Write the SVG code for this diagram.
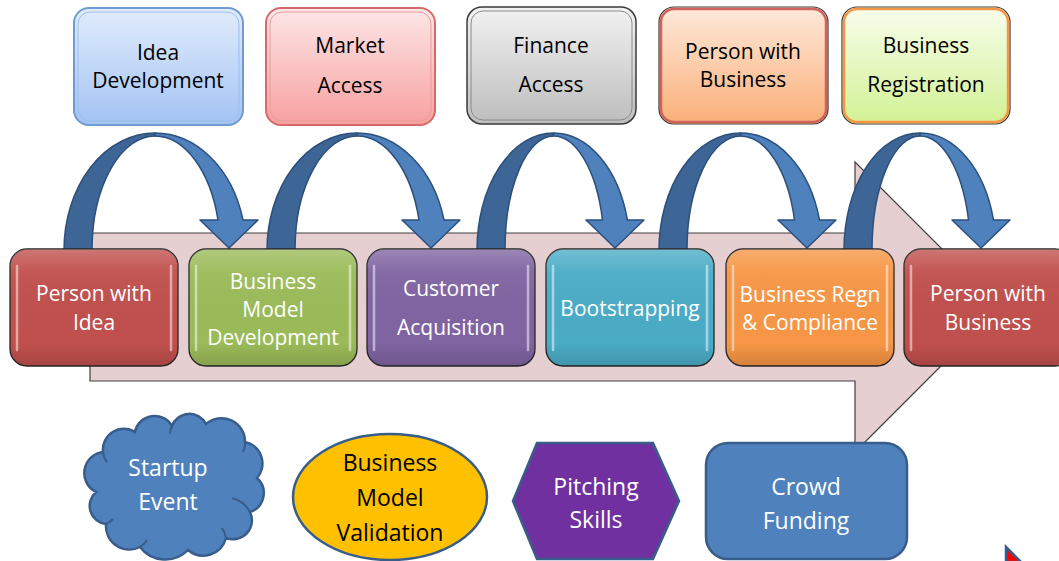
<svg xmlns="http://www.w3.org/2000/svg" width="1059" height="561" viewBox="0 0 1059 561">
<defs>
<linearGradient id="gBlue" x1="0" y1="0" x2="0" y2="1"><stop offset="0" stop-color="#e1ecfc"/><stop offset="1" stop-color="#a3c3f4"/></linearGradient>
<linearGradient id="gRed" x1="0" y1="0" x2="0" y2="1"><stop offset="0" stop-color="#fde7e7"/><stop offset="1" stop-color="#f8a0a0"/></linearGradient>
<linearGradient id="gGray" x1="0" y1="0" x2="0" y2="1"><stop offset="0" stop-color="#f2f2f2"/><stop offset="1" stop-color="#bdbdbd"/></linearGradient>
<linearGradient id="gPeach" x1="0" y1="0" x2="0" y2="1"><stop offset="0" stop-color="#fde9da"/><stop offset="1" stop-color="#fbaf78"/></linearGradient>
<linearGradient id="gLime" x1="0" y1="0" x2="0" y2="1"><stop offset="0" stop-color="#f8fdec"/><stop offset="1" stop-color="#d2f294"/></linearGradient>
<linearGradient id="gloss" x1="0" y1="0" x2="0" y2="1"><stop offset="0" stop-color="#fff" stop-opacity="0.22"/><stop offset="0.2" stop-color="#fff" stop-opacity="0.04"/><stop offset="0.8" stop-color="#000" stop-opacity="0"/><stop offset="1" stop-color="#000" stop-opacity="0.14"/></linearGradient>
</defs>
<style>
.t{font-family:"Open Sans","Noto Sans","Liberation Sans",sans-serif;font-size:21px;text-anchor:middle}
.w{fill:#fff}
.k{fill:#000}
.b{font-size:23px}
.main{stroke:#262626;stroke-width:1.3}
.gl{fill:url(#gloss);stroke:none}
.hl{fill:none;stroke:#fff;stroke-opacity:0.5;stroke-width:2.5;stroke-linecap:round}
.dk{fill:#3d6595;stroke:#2c4f7c;stroke-width:1.5;stroke-linejoin:round}
.lt{fill:#4f81bd;stroke:#2c4f7c;stroke-width:1.5;stroke-linejoin:round}
.sh{stroke:#385d8a;stroke-width:2.5}
.cr{fill:none;stroke:#385d8a;stroke-width:2}
</style>
<rect width="1059" height="561" fill="#fff"/>

<g id="flow-arrow">
<polygon points="90,233 855,233 855,162 1000,307 855,452 855,381 90,381" fill="#e6cfd0" stroke="#3f3f3f" stroke-width="1.2"/>
</g>

<g id="connectors">
<path class="dk" d="M64,250 A91 117 0 0 1 155,133 L155,136 A63 114 0 0 0 92,250 Z"/>
<path class="lt" d="M155,133 A91 117 0 0 1 243,220 L258,220 L229,248 L200,220 L218,220 A65.5 114 0 0 0 155,136 Z"/>
<path class="dk" d="M267,250 A90 117 0 0 1 357,133 L357,136 A62 114 0 0 0 295,250 Z"/>
<path class="lt" d="M357,133 A90 117 0 0 1 444,220 L460,220 L431,248 L402,220 L419,220 A64 114 0 0 0 357,136 Z"/>
<path class="dk" d="M477,250 A76.5 117 0 0 1 553.5,133 L553.5,136 A48.5 114 0 0 0 505,250 Z"/>
<path class="lt" d="M553.5,133 A76.5 117 0 0 1 627.4,220 L644,220 L615,248 L586,220 L602.5,220 A50.8 114 0 0 0 553.5,136 Z"/>
<path class="dk" d="M659,250 A81.6 117 0 0 1 740.6,133 L740.6,136 A53.6 114 0 0 0 687,250 Z"/>
<path class="lt" d="M740.6,133 A81.6 117 0 0 1 819.5,220 L836,220 L807,248 L778,220 L794.5,220 A55.9 114 0 0 0 740.6,136 Z"/>
<path class="dk" d="M844,250 A76 117 0 0 1 920,133 L920,136 A48 114 0 0 0 872,250 Z"/>
<path class="lt" d="M920,133 A76 117 0 0 1 993.5,220 L1010,220 L981,248 L952,220 L968.5,220 A50.3 114 0 0 0 920,136 Z"/>
</g>

<g id="person-idea">
<rect class="main" x="10" y="249" width="168" height="117" rx="17" fill="#c0504d"/>
<rect class="gl" x="10" y="249" width="168" height="117" rx="17"/>
<path class="hl" d="M17,266 L17,350 M171,266 L171,350"/>
<text class="t w" x="94" y="300.5">Person with</text>
<text class="t w" x="94" y="329.5">Idea</text>
</g>
<g id="business-model-dev">
<rect class="main" x="189" y="249" width="168" height="117" rx="17" fill="#9bbb59"/>
<rect class="gl" x="189" y="249" width="168" height="117" rx="17"/>
<path class="hl" d="M196,266 L196,350 M350,266 L350,350"/>
<text class="t w" x="273" y="288.5">Business</text>
<text class="t w" x="273" y="316.5">Model</text>
<text class="t w" x="273" y="344.5">Development</text>
</g>
<g id="customer-acquisition">
<rect class="main" x="367" y="249" width="168" height="117" rx="17" fill="#8064a2"/>
<rect class="gl" x="367" y="249" width="168" height="117" rx="17"/>
<path class="hl" d="M374,266 L374,350 M528,266 L528,350"/>
<text class="t w" x="451" y="295.5">Customer</text>
<text class="t w" x="451" y="334.5">Acquisition</text>
</g>
<g id="bootstrapping">
<rect class="main" x="546" y="249" width="168" height="117" rx="17" fill="#4bacc6"/>
<rect class="gl" x="546" y="249" width="168" height="117" rx="17"/>
<path class="hl" d="M553,266 L553,350 M707,266 L707,350"/>
<text class="t w" x="630" y="315.5">Bootstrapping</text>
</g>
<g id="business-regn">
<rect class="main" x="726" y="249" width="168" height="117" rx="17" fill="#f79646"/>
<rect class="gl" x="726" y="249" width="168" height="117" rx="17"/>
<path class="hl" d="M733,266 L733,350 M887,266 L887,350"/>
<text class="t w" x="810" y="301.5">Business Regn</text>
<text class="t w" x="810" y="329.5">&amp; Compliance</text>
</g>
<g id="person-business">
<rect class="main" x="904" y="249" width="168" height="117" rx="17" fill="#c0504d"/>
<rect class="gl" x="904" y="249" width="168" height="117" rx="17"/>
<path class="hl" d="M911,266 L911,350"/>
<text class="t w" x="988" y="300.5">Person with</text>
<text class="t w" x="988" y="329.5">Business</text>
</g>

<g id="top-idea-development">
<rect x="74" y="8" width="169" height="117" rx="15" fill="url(#gBlue)" stroke="#6f9ad4" stroke-width="2"/>
<rect x="78" y="12" width="161" height="109" rx="12" fill="none" stroke="#9dbdea" stroke-width="1"/>
<text class="t k" x="158" y="59.5">Idea</text>
<text class="t k" x="158" y="87.5">Development</text>
</g>
<g id="top-market-access">
<rect x="266" y="8" width="169" height="117" rx="15" fill="url(#gRed)" stroke="#d66a6a" stroke-width="2"/>
<rect x="270" y="12" width="161" height="109" rx="12" fill="none" stroke="#e99a9a" stroke-width="1"/>
<text class="t k" x="350" y="52.5">Market</text>
<text class="t k" x="350" y="92.5">Access</text>
</g>
<g id="top-finance-access">
<rect x="467" y="7" width="169" height="117" rx="15" fill="url(#gGray)" stroke="#3a3a3a" stroke-width="1.5"/>
<rect x="471" y="11" width="161" height="109" rx="12" fill="none" stroke="#8a8a8a" stroke-width="1"/>
<text class="t k" x="551" y="52.5">Finance</text>
<text class="t k" x="551" y="91.5">Access</text>
</g>
<g id="top-person-business">
<rect x="659" y="7" width="169" height="117" rx="15" fill="url(#gPeach)" stroke="#3a3a3a" stroke-width="1.2"/>
<rect x="661" y="9" width="165" height="113" rx="13" fill="none" stroke="#d0645a" stroke-width="2.5"/>
<text class="t k" x="743" y="58.5">Person with</text>
<text class="t k" x="743" y="86.5">Business</text>
</g>
<g id="top-business-registration">
<rect x="842" y="7" width="168" height="117" rx="15" fill="url(#gLime)" stroke="#3a3a3a" stroke-width="1.2"/>
<rect x="844" y="9" width="164" height="113" rx="13" fill="none" stroke="#f79646" stroke-width="2.5"/>
<text class="t k" x="926" y="52.5">Business</text>
<text class="t k" x="926" y="91.5">Registration</text>
</g>

<g id="startup-event">
<path class="sh" fill="#4f81bd" d="M103,452 A21 21 0 0 1 135,432 A20 20 0 0 1 172,426 A18.6 18.6 0 0 1 206,424 A23.5 23.5 0 0 1 245,442 A22 22 0 0 1 257,478 A20 20 0 0 1 250,512 A19 19 0 0 1 226,538 A23.5 23.5 0 0 1 188,550 A31.7 31.7 0 0 1 140,547 A23.5 23.5 0 0 1 106,524 A18.3 18.3 0 0 1 96,492 A21.2 21.2 0 0 1 103,452 Z"/>
<path class="cr" d="M103,452 A18 18 0 0 0 107,462 M172,426 A16 16 0 0 0 170,434 M245,442 A18 18 0 0 1 243,452 M250,512 A28 28 0 0 0 232,498 M226,538 A24 24 0 0 0 222,528 M140,547 A22 22 0 0 0 147,540 M106,524 A20 20 0 0 0 113,519"/>
<text class="t w b" x="168" y="476">Startup</text>
<text class="t w b" x="168" y="510">Event</text>
</g>
<g id="business-model-validation">
<ellipse class="sh" cx="390" cy="497" rx="97" ry="63" fill="#ffc000"/>
<text class="t k b" x="390" y="471">Business</text>
<text class="t k b" x="390" y="506">Model</text>
<text class="t k b" x="390" y="541">Validation</text>
</g>
<g id="pitching-skills">
<polygon class="sh" points="537,443 653,443 679,501 653,559 537,559 513,501" fill="#7030a0"/>
<text class="t w b" x="596" y="495">Pitching</text>
<text class="t w b" x="596" y="528">Skills</text>
</g>
<g id="crowd-funding">
<rect class="sh" x="706" y="443" width="201" height="116" rx="22" fill="#4f81bd" stroke-width="3"/>
<text class="t w b" x="806" y="495">Crowd</text>
<text class="t w b" x="806" y="529">Funding</text>
</g>
<g id="corner-mark">
<polygon points="1006,547 1021,562 1006,562" fill="#ff0000" stroke="#385d8a" stroke-width="2.5"/>
</g>
</svg>
